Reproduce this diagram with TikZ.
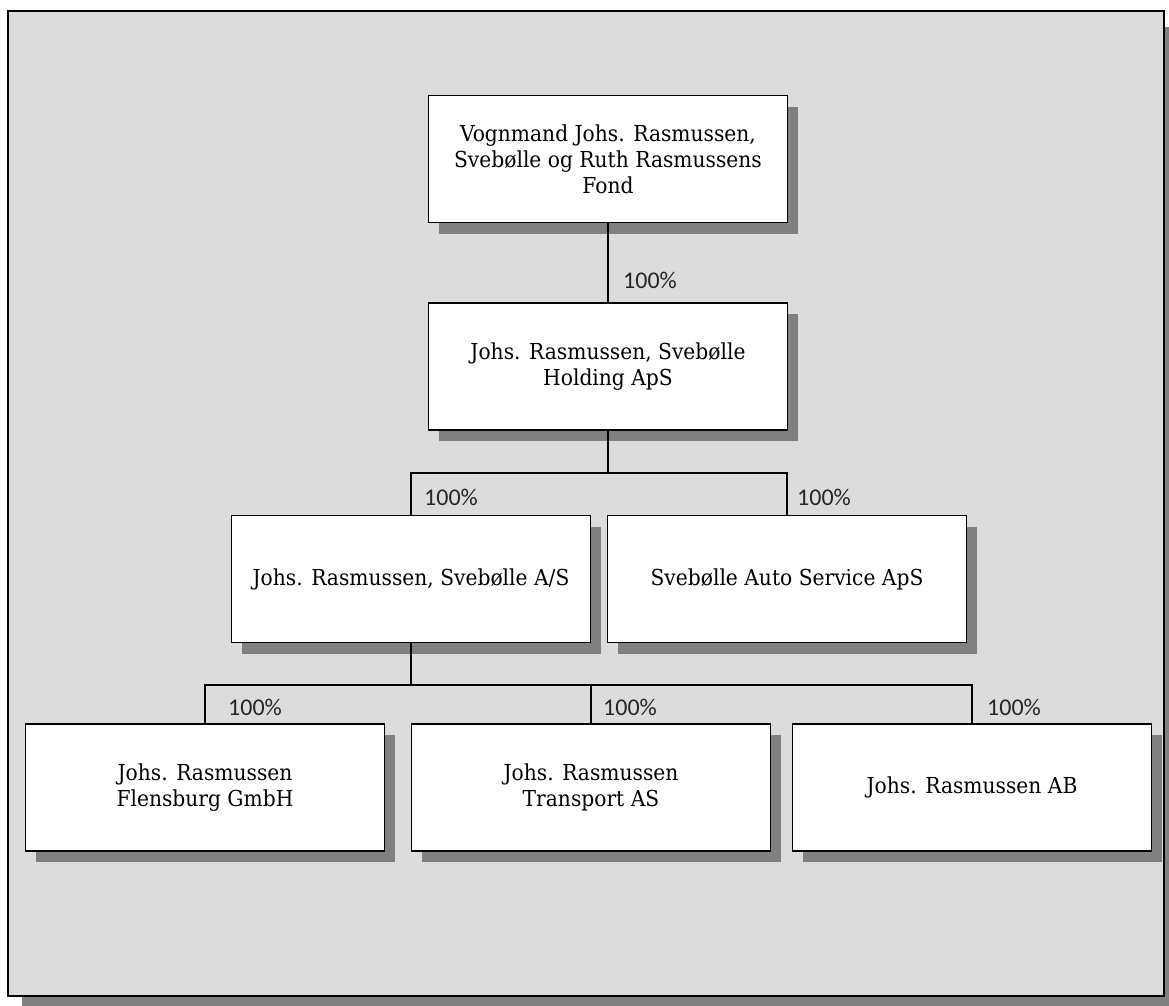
\documentclass[tikz,border=0pt]{standalone}
\usepackage{fontspec}
\setmainfont[FakeStretch=0.92]{DejaVu Serif}
\newfontfamily\pctfont{Carlito}
\usetikzlibrary{shadows,positioning}

\definecolor{bgGray}{RGB}{220,220,220}
\definecolor{shadowGray}{RGB}{128,128,128}

\begin{document}
\begin{tikzpicture}[
    x=1pt, y=-1pt,
    orgbox/.style={draw, fill=white, line width=1.2pt, minimum width=359pt, minimum height=127pt,
        align=center, font=\fontsize{22}{26}\selectfont,
        drop shadow={shadow xshift=10pt, shadow yshift=-11pt, fill=shadowGray, opacity=1}},
    link/.style={line width=1.2pt},
    pct/.style={anchor=base west, inner sep=0pt, font=\pctfont\fontsize{24}{24}\selectfont, text=black!85}
]
\useasboundingbox (0,0) rectangle (1169,1005);

% Frame with shadow
\fill[shadowGray] (22,27) rectangle (1180,1012);
\filldraw[fill=bgGray, draw=black, line width=1.5pt] (8,11) rectangle (1164,996);

% Boxes
\node[orgbox] (fond) at (608,159) {Vognmand Johs. Rasmussen,\\Svebølle og Ruth Rasmussens\\Fond};
\node[orgbox] (holding) at (608,366.5) {Johs. Rasmussen, Svebølle\\Holding ApS};
\node[orgbox] (as) at (411,579) {Johs. Rasmussen, Svebølle A/S};
\node[orgbox] (auto) at (787,579) {Svebølle Auto Service ApS};
\node[orgbox] (flensburg) at (205,787.5) {Johs. Rasmussen\\Flensburg GmbH};
\node[orgbox] (transport) at (591,787.5) {Johs. Rasmussen\\Transport AS};
\node[orgbox] (ab) at (972,787.5) {Johs. Rasmussen AB};

% Connectors
\coordinate (busA) at (608,473);
\coordinate (busB) at (411,685);
\draw[link] (fond.south) -- (holding.north);
\draw[link] (holding.south) -- (busA) -| (as.north);
\draw[link] (busA) -| (auto.north);
\draw[link] (as.south) -- (busB) -| (flensburg.north);
\draw[link] (busB) -| (transport.north);
\draw[link] (busB) -| (ab.north);

% Shares
\node[pct] (p1) at (623,288) {100\%};
\node[pct] (p2) at (424,505) {100\%};
\node[pct] (p3) at (797,505) {100\%};
\node[pct] (p4) at (228,715) {100\%};
\node[pct] (p5) at (603,715) {100\%};
\node[pct] (p6) at (987,715) {100\%};

\end{tikzpicture}
\end{document}
